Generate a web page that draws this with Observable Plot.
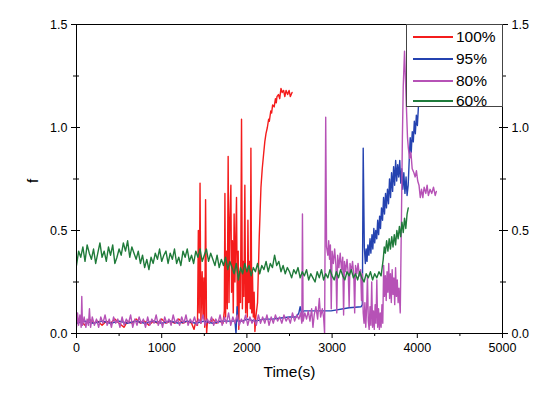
<!DOCTYPE html>
<html><head><meta charset="utf-8">
<script src="https://cdn.jsdelivr.net/npm/d3@7"></script>
<script src="https://cdn.jsdelivr.net/npm/@observablehq/plot@0.6"></script>
<style>
body{margin:0;background:#fff;}
#wrap{position:relative;width:550px;height:393px;font-family:"Liberation Sans",Arial,sans-serif;}
#legend{position:absolute;left:406px;top:24px;width:97px;height:83px;background:#fff;border:1px solid #444;box-sizing:border-box;}
#legend .row{position:absolute;left:0;height:20px;width:95px;}
#legend .sw{position:absolute;left:6px;top:9px;width:40px;height:0;border-top:2px solid;}
#legend .lb{position:absolute;left:49px;top:0;font-size:15.5px;line-height:20px;color:#000;}
</style></head>
<body><div id="wrap"></div>
<script>
const seriesNames = ["100%", "95%", "80%", "60%"];
const seriesColors = ["#f41c1c", "#2442b0", "#b652b6", "#1f7b3a"];
const xMajor = [0, 1000, 2000, 3000, 4000, 5000];
const xMinor = [500, 1500, 2500, 3500, 4500];
const yMajor = [0, 0.5, 1.0, 1.5];
const yMinor = [0.25, 0.75, 1.25];

// 100%
const red = [[0,0.05],[50,0.06],[100,0.04],[150,0.07],[200,0.05],[250,0.06],[300,0.04],[350,0.06],[400,0.05],[450,0.07],[500,0.05],[557,0.03],[600,0.06],[650,0.05],[700,0.07],[750,0.05],[800,0.06],[850,0.04],[900,0.06],[950,0.05],[1000,0.07],[1050,0.05],[1100,0.06],[1150,0.05],[1200,0.07],[1250,0.05],[1300,0.06],[1350,0.05],[1380,0.02],[1400,0.06],[1420,0.04],[1430,0.50],[1440,0.10],[1450,0.73],[1460,0.05],[1475,0.30],[1485,0.08],[1495,0.27],[1505,0.03],[1515,0.65],[1527,0.00],[1537,0.06],[1560,0.05],[1600,0.07],[1640,0.05],[1680,0.06],[1720,0.05],[1735,0.11],[1742,0.68],[1750,0.08],[1760,0.40],[1770,0.12],[1780,0.86],[1790,0.15],[1800,0.55],[1812,0.72],[1820,0.20],[1830,0.45],[1840,0.10],[1850,0.58],[1860,0.25],[1870,0.48],[1878,0.66],[1888,0.10],[1898,0.40],[1905,0.02],[1915,0.30],[1925,0.15],[1937,1.04],[1947,0.12],[1955,0.35],[1965,0.18],[1976,0.72],[1985,0.10],[1995,0.30],[2005,0.08],[2012,0.55],[2022,0.15],[2030,0.35],[2040,0.12],[2047,0.90],[2057,0.10],[2065,0.30],[2075,0.08],[2085,0.20],[2094,0.01],[2105,0.08],[2125,0.15],[2145,0.47],[2165,0.71],[2180,0.80],[2196,0.87],[2210,0.93],[2224,0.97],[2240,1.00],[2255,1.04],[2263,1.03],[2280,1.08],[2290,1.07],[2302,1.11],[2320,1.10],[2335,1.14],[2345,1.12],[2353,1.15],[2370,1.16],[2385,1.14],[2400,1.19],[2415,1.17],[2431,1.18],[2445,1.15],[2460,1.18],[2478,1.16],[2495,1.18],[2510,1.15],[2530,1.17]];

// 95%
const blue = [[0,0.05],[100,0.06],[200,0.05],[300,0.06],[400,0.05],[500,0.06],[600,0.05],[700,0.06],[800,0.05],[900,0.06],[1000,0.05],[1100,0.06],[1200,0.05],[1300,0.06],[1400,0.05],[1500,0.06],[1600,0.05],[1700,0.06],[1800,0.06],[1860,0.06],[1872,0.00],[1885,0.13],[1895,0.06],[1950,0.06],[2000,0.07],[2100,0.06],[2200,0.07],[2300,0.07],[2400,0.075],[2500,0.08],[2580,0.08],[2610,0.10],[2625,0.13],[2640,0.10],[2670,0.11],[2800,0.11],[2988,0.11],[3200,0.125],[3341,0.13],[3355,0.14],[3365,0.90],[3378,0.42],[3390,0.34],[3400,0.41],[3410,0.35],[3420,0.43],[3432,0.38],[3445,0.46],[3455,0.39],[3468,0.48],[3478,0.41],[3490,0.51],[3500,0.44],[3512,0.50],[3524,0.46],[3535,0.55],[3546,0.48],[3558,0.57],[3568,0.51],[3580,0.61],[3592,0.55],[3604,0.66],[3615,0.58],[3627,0.68],[3638,0.61],[3650,0.70],[3662,0.63],[3674,0.75],[3686,0.66],[3698,0.78],[3710,0.69],[3722,0.81],[3734,0.72],[3746,0.84],[3758,0.74],[3770,0.82],[3782,0.76],[3794,0.84],[3806,0.73],[3818,0.80],[3830,0.70],[3842,0.78],[3855,0.68],[3868,0.76],[3880,0.67],[3893,0.72],[3905,0.84],[3917,0.95],[3929,0.88],[3941,0.98],[3953,0.93],[3965,1.03],[3977,0.97],[3989,1.06],[4001,1.01],[4013,1.10],[4027,1.14]];

// 80%
const purple = [[0,0.03],[12,0.10],[25,0.04],[40,0.09],[55,0.03],[62,0.18],[70,0.04],[90,0.08],[110,0.03],[125,0.07],[140,0.04],[152,0.12],[165,0.03],[185,0.08],[210,0.04],[235,0.07],[260,0.03],[285,0.08],[310,0.05],[335,0.09],[360,0.04],[385,0.07],[410,0.03],[435,0.08],[460,0.05],[485,0.07],[510,0.03],[535,0.08],[560,0.04],[585,0.07],[610,0.05],[635,0.09],[660,0.03],[685,0.07],[710,0.04],[735,0.08],[760,0.05],[785,0.07],[810,0.03],[835,0.08],[860,0.04],[885,0.07],[910,0.05],[935,0.09],[960,0.04],[985,0.07],[1010,0.03],[1035,0.08],[1060,0.05],[1085,0.07],[1110,0.04],[1135,0.09],[1160,0.05],[1185,0.07],[1210,0.04],[1235,0.08],[1260,0.05],[1285,0.09],[1310,0.04],[1335,0.07],[1360,0.05],[1385,0.08],[1410,0.04],[1435,0.07],[1460,0.05],[1485,0.09],[1510,0.04],[1535,0.07],[1560,0.05],[1585,0.08],[1610,0.04],[1635,0.07],[1660,0.05],[1685,0.09],[1710,0.04],[1735,0.08],[1760,0.05],[1785,0.10],[1810,0.04],[1835,0.08],[1860,0.05],[1885,0.09],[1910,0.04],[1935,0.07],[1960,0.05],[1985,0.09],[2010,0.04],[2035,0.08],[2060,0.05],[2085,0.07],[2110,0.04],[2135,0.09],[2160,0.05],[2185,0.08],[2210,0.05],[2235,0.09],[2260,0.04],[2285,0.08],[2310,0.05],[2335,0.09],[2360,0.06],[2385,0.08],[2410,0.05],[2435,0.09],[2460,0.06],[2485,0.08],[2510,0.05],[2535,0.10],[2560,0.06],[2585,0.09],[2610,0.07],[2630,0.10],[2645,0.05],[2652,0.58],[2660,0.06],[2680,0.10],[2700,0.07],[2720,0.11],[2740,0.06],[2760,0.12],[2775,0.03],[2790,0.09],[2810,0.13],[2830,0.07],[2850,0.17],[2865,0.08],[2885,0.12],[2900,0.08],[2912,0.00],[2925,1.05],[2935,0.42],[2950,0.38],[2960,0.45],[2970,0.36],[2980,0.43],[2990,0.12],[3000,0.40],[3015,0.34],[3030,0.41],[3045,0.33],[3055,0.10],[3065,0.38],[3080,0.32],[3095,0.39],[3110,0.31],[3125,0.37],[3135,0.09],[3145,0.35],[3160,0.30],[3175,0.36],[3190,0.29],[3200,0.13],[3210,0.34],[3225,0.30],[3240,0.35],[3255,0.28],[3265,0.10],[3275,0.33],[3290,0.29],[3305,0.34],[3320,0.28],[3335,0.31],[3345,0.16],[3355,0.29],[3365,0.10],[3375,0.05],[3385,0.15],[3395,0.03],[3405,0.12],[3415,0.28],[3425,0.06],[3435,0.02],[3445,0.13],[3455,0.04],[3465,0.25],[3475,0.03],[3485,0.11],[3495,0.02],[3505,0.14],[3515,0.05],[3525,0.26],[3535,0.03],[3545,0.12],[3555,0.02],[3565,0.10],[3575,0.03],[3585,0.14],[3595,0.05],[3605,0.33],[3615,0.18],[3625,0.28],[3635,0.16],[3645,0.30],[3655,0.20],[3665,0.34],[3675,0.17],[3685,0.29],[3695,0.15],[3705,0.31],[3715,0.19],[3725,0.27],[3735,0.14],[3745,0.32],[3755,0.18],[3765,0.26],[3775,0.15],[3785,0.22],[3800,0.10],[3815,0.60],[3825,0.95],[3835,1.20],[3850,1.37],[3860,1.25],[3872,1.10],[3885,0.95],[3895,0.90],[3910,0.85],[3925,0.88],[3940,0.80],[3960,0.78],[3975,0.76],[3990,0.79],[4005,0.74],[4020,0.72],[4035,0.66],[4050,0.70],[4065,0.66],[4080,0.71],[4100,0.68],[4115,0.72],[4130,0.67],[4150,0.70],[4170,0.68],[4190,0.71],[4210,0.67],[4224,0.69]];

// 60%
const green = [[0,0.33],[25,0.40],[50,0.37],[75,0.42],[100,0.35],[125,0.43],[150,0.39],[175,0.36],[200,0.41],[225,0.34],[250,0.39],[275,0.44],[300,0.37],[325,0.40],[350,0.35],[375,0.42],[400,0.38],[425,0.43],[450,0.34],[475,0.37],[500,0.41],[525,0.38],[550,0.44],[575,0.40],[600,0.45],[625,0.37],[650,0.42],[675,0.39],[700,0.36],[725,0.40],[750,0.34],[775,0.38],[800,0.32],[825,0.36],[850,0.31],[875,0.37],[900,0.34],[925,0.39],[950,0.36],[975,0.41],[1000,0.35],[1025,0.38],[1050,0.40],[1075,0.34],[1100,0.39],[1125,0.36],[1150,0.41],[1175,0.34],[1200,0.37],[1225,0.33],[1250,0.40],[1275,0.37],[1300,0.41],[1325,0.35],[1350,0.38],[1375,0.34],[1400,0.40],[1425,0.37],[1450,0.41],[1475,0.35],[1500,0.38],[1525,0.41],[1550,0.35],[1575,0.39],[1600,0.36],[1625,0.33],[1650,0.38],[1675,0.32],[1700,0.36],[1725,0.33],[1750,0.37],[1775,0.31],[1800,0.35],[1825,0.32],[1850,0.29],[1875,0.34],[1900,0.26],[1925,0.32],[1950,0.29],[1975,0.34],[2000,0.30],[2025,0.33],[2050,0.28],[2075,0.32],[2100,0.30],[2125,0.34],[2150,0.29],[2175,0.33],[2200,0.31],[2225,0.35],[2250,0.30],[2275,0.34],[2300,0.32],[2325,0.38],[2350,0.33],[2375,0.35],[2400,0.30],[2425,0.33],[2450,0.29],[2475,0.32],[2500,0.30],[2525,0.27],[2550,0.31],[2575,0.29],[2600,0.32],[2625,0.27],[2650,0.30],[2675,0.28],[2700,0.31],[2725,0.26],[2750,0.29],[2775,0.27],[2800,0.25],[2825,0.30],[2850,0.27],[2875,0.31],[2900,0.26],[2925,0.29],[2950,0.27],[2975,0.31],[3000,0.28],[3025,0.26],[3050,0.30],[3075,0.27],[3100,0.31],[3125,0.28],[3150,0.26],[3175,0.30],[3200,0.28],[3225,0.31],[3250,0.27],[3275,0.29],[3300,0.26],[3325,0.30],[3350,0.27],[3375,0.25],[3400,0.29],[3425,0.27],[3450,0.30],[3475,0.26],[3500,0.29],[3525,0.27],[3550,0.30],[3575,0.28],[3600,0.36],[3612,0.42],[3625,0.39],[3640,0.45],[3655,0.40],[3670,0.46],[3685,0.41],[3700,0.47],[3715,0.42],[3730,0.48],[3745,0.43],[3760,0.50],[3775,0.46],[3790,0.52],[3805,0.47],[3820,0.54],[3835,0.49],[3850,0.56],[3865,0.51],[3880,0.58],[3894,0.61]];

const series = [red, blue, purple, green];
const lineMarks = series.map((s, i) => Plot.line(s, {x: d => d[0], y: d => d[1], stroke: seriesColors[i], strokeWidth: 1.4, clip: true}));

const noLabel = () => "";
const plot = Plot.plot({
  width: 550, height: 393,
  marginLeft: 76, marginRight: 48, marginTop: 24, marginBottom: 60,
  style: {fontFamily: '"Liberation Sans", Arial, sans-serif', fontSize: "12.5px", background: "#fff", color: "#000"},
  x: {domain: [0, 5000]},
  y: {domain: [0, 1.5]},
  marks: [
    ...lineMarks,
    Plot.frame({stroke: "#000", strokeWidth: 1}),
    Plot.axisX({ticks: xMajor, tickSize: 5, tickPadding: 5, tickFormat: d3.format("d"), label: null}),
    Plot.axisX({ticks: xMinor, tickSize: 3, tickFormat: noLabel, label: null}),
    Plot.axisY({anchor: "left", ticks: yMajor, tickSize: 5, tickFormat: d3.format(".1f"), label: null}),
    Plot.axisY({anchor: "left", ticks: yMajor, tickSize: -4, tickFormat: noLabel, label: null}),
    Plot.axisY({anchor: "left", ticks: yMinor, tickSize: 3, tickFormat: noLabel, label: null}),
    Plot.axisY({anchor: "left", ticks: yMinor, tickSize: -3, tickFormat: noLabel, label: null}),
    Plot.axisY({anchor: "right", ticks: yMajor, tickSize: 5, tickPadding: 4, tickFormat: d3.format(".1f"), label: null}),
    Plot.axisY({anchor: "right", ticks: yMajor, tickSize: -4, tickFormat: noLabel, label: null}),
    Plot.axisY({anchor: "right", ticks: yMinor, tickSize: 3, tickFormat: noLabel, label: null}),
    Plot.axisY({anchor: "right", ticks: yMinor, tickSize: -3, tickFormat: noLabel, label: null}),
    Plot.text(["Time(s)"], {frameAnchor: "bottom", dy: 43, fontSize: 15.5, text: d => d}),
    Plot.text(["f"], {frameAnchor: "left", dx: -43, dy: 4, rotate: -90, fontSize: 15.5, text: d => d})
  ]
});
const wrap = document.getElementById("wrap");
wrap.appendChild(plot);

const legend = document.createElement("div");
legend.id = "legend";
const rowTops = [2, 24, 46, 66];
seriesNames.forEach((name, i) => {
  const row = document.createElement("div");
  row.className = "row";
  row.style.top = rowTops[i] + "px";
  const sw = document.createElement("div");
  sw.className = "sw";
  sw.style.borderTopColor = seriesColors[i];
  const lb = document.createElement("div");
  lb.className = "lb";
  lb.textContent = name;
  row.appendChild(sw); row.appendChild(lb);
  legend.appendChild(row);
});
wrap.appendChild(legend);
</script>
</body></html>
